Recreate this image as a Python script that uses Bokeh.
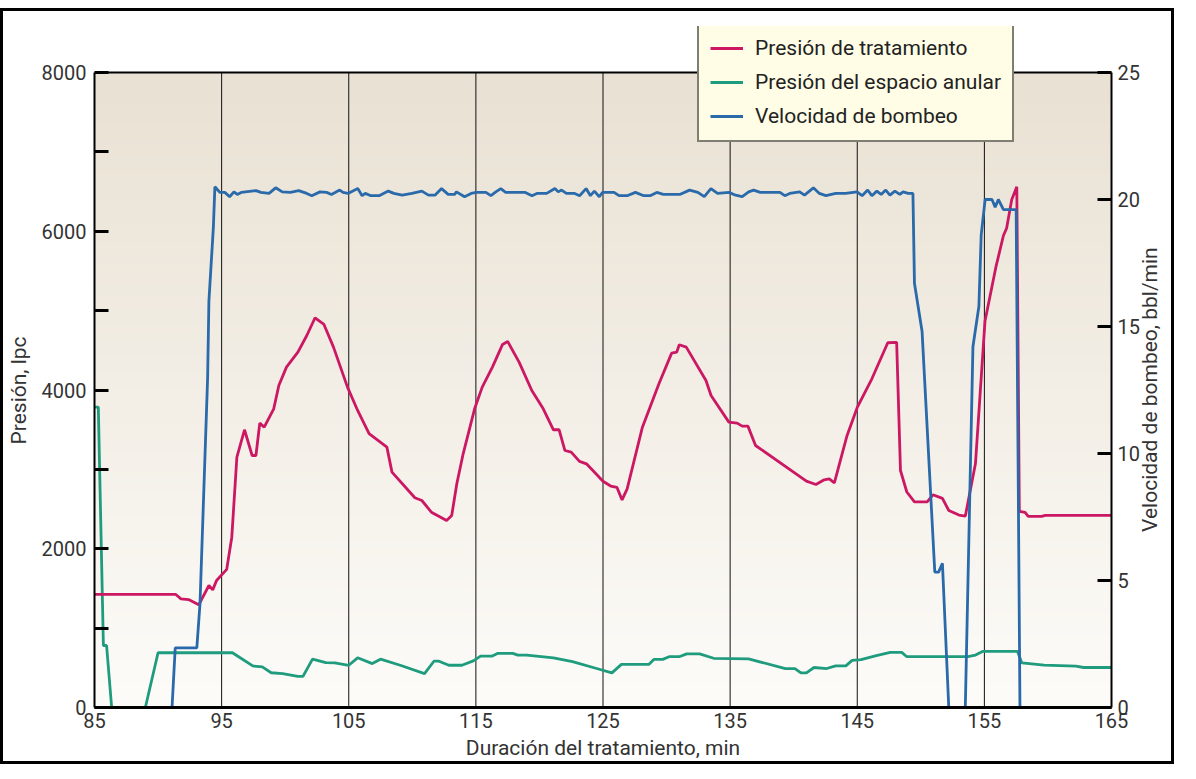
import math
import numpy as np
from bokeh.plotting import figure
from bokeh.models import Range1d, LinearAxis, FixedTicker, Legend, LegendItem, Span
from bokeh.embed import file_html
from bokeh.resources import INLINE

FONT = "Roboto"

# ---- data ----
# Presión de tratamiento (lpc)
t_trat = [85, 91.4, 91.8, 92.4, 93.2, 94.0, 94.3, 94.6, 95.4, 95.8, 96.2, 96.8, 97.4, 97.7,
          98.0, 98.35, 99.1, 99.5, 100.1, 101.0, 101.7, 102.35, 103.05, 103.8, 104.9, 105.7,
          106.6, 108.0, 108.4, 110.2, 110.75, 111.5, 112.7, 113.1, 113.5, 114.0, 114.9, 115.5,
          116.3, 117.1, 117.5, 118.4, 119.4, 120.3, 121.1, 121.55, 122.0, 122.5, 123.15, 123.7,
          125.0, 125.6, 126.1, 126.5, 126.9, 128.1, 129.4, 130.4, 130.8, 131.0, 131.55, 133.1,
          133.5, 134.9, 135.55, 135.95, 136.4, 137.0, 141.0, 141.75, 142.4, 142.8, 143.2, 144.2,
          145.0, 146.15, 147.4, 148.1, 148.4, 148.9, 149.5, 150.5, 150.95, 151.7, 152.2, 153.0,
          153.5, 154.3, 155.05, 155.9, 156.5, 156.75, 157.15, 157.55, 157.75, 158.2, 158.45,
          159.5, 159.8, 165]
p_trat = [1424, 1424, 1369, 1360, 1294, 1537, 1482, 1600, 1740, 2146, 3154, 3499, 3175, 3175,
          3583, 3532, 3763, 4057, 4288, 4477, 4687, 4910, 4826, 4540, 4036, 3742,
          3449, 3280, 2965, 2642, 2608, 2461, 2356, 2419, 2818, 3196, 3763, 4036,
          4288, 4574, 4612, 4351, 3994, 3763, 3499, 3499, 3238, 3217, 3100, 3070,
          2850, 2790, 2772, 2616, 2755, 3532, 4078, 4465, 4477, 4570, 4540, 4120,
          3931, 3595, 3583, 3545, 3545, 3301, 2852, 2810, 2869, 2881, 2831, 3427,
          3780, 4141, 4595, 4600, 2986, 2715, 2590, 2590, 2680, 2635, 2482, 2424,
          2410, 3074, 4870, 5544, 5947, 6038, 6397, 6560, 2470, 2457, 2407,
          2407, 2420, 2420]

# Presión del espacio anular (lpc)
t_anular = [85, 85.3, 85.7, 85.95, 86.35, 89.0, 90.0, 95.85, 97.45, 98.2, 98.9, 99.8, 101.0,
            101.4, 102.15, 103.2, 103.9, 105.0, 105.7, 106.85, 107.5, 109.05, 110.96, 111.7,
            112.1, 112.87, 113.9, 114.8, 115.37, 116.25, 116.7, 117.9, 118.3, 119.0, 121.1,
            122.6, 124.5, 125.7, 126.45, 128.6, 129.0, 129.7, 130.2, 131.0, 131.58, 132.6,
            133.7, 136.45, 139.35, 140.1, 140.57, 141.0, 141.6, 142.6, 143.3, 144.1, 144.6,
            145.3, 146.5, 147.6, 148.5, 148.9, 153.7, 154.3, 154.9, 157.6, 157.95, 159.7,
            162.2, 162.8, 165]
p_anular = [3784, 3784, 781, 781, 0, 0, 690, 690, 524, 511, 438, 426, 392,
            392, 609, 566, 562, 532, 626, 553, 609, 532, 426, 583,
            583, 532, 532, 587, 647, 647, 681, 681, 660, 660, 626,
            577, 491, 436, 543, 543, 606, 606, 640, 640, 675, 675,
            620, 612, 491, 491, 436, 436, 504, 491, 525, 525, 593,
            602, 653, 694, 694, 640, 640, 660, 708, 708, 562, 533,
            520, 504, 504]

# Velocidad de bombeo (bbl/min)
t_bombeo = [85, 91.1, 91.35, 93.05, 93.3, 93.9, 94.0, 94.35, 94.47,
            94.86, 95.25, 95.63, 95.97, 96.23, 96.54, 97.7, 98.09, 98.73, 99.25, 99.77,
            100.41, 101.06, 101.7, 102.09, 102.74, 103.26, 103.64, 104.29, 104.55, 104.94,
            105.71, 106.05, 106.3, 106.74, 107.39, 108.11, 108.55, 109.2, 109.97, 110.75,
            111.27, 111.78, 112.3, 112.82, 113.33, 113.47, 114.11, 114.63, 115.02, 115.79,
            116.18, 116.57, 116.96, 117.34, 118.89, 119.41, 119.8, 120.57, 121.22, 121.48,
            121.74, 122.12, 122.77, 123.16, 123.67, 124.01, 124.32, 124.71, 124.97, 125.87,
            126.26, 126.9, 127.55, 128.2, 128.71, 129.23, 129.75, 131.04, 131.81, 132.46,
            132.97, 133.49, 134.01, 134.91, 135.43, 135.95, 136.46, 136.85, 137.37, 138.92,
            139.3, 139.69, 140.47, 140.85, 141.55, 142.02, 142.53, 143.31, 144.08, 144.99,
            145.38, 145.82, 146.15, 146.54, 146.88, 147.24, 147.57, 147.96, 148.35, 148.61,
            149.0, 149.38, 149.5, 150.1, 151.1, 151.4, 151.7, 152.2, 153.5, 154.1, 154.57,
            154.75, 155.06, 155.6, 155.85, 156.1, 156.5, 157.5, 157.8, 165]
q_bombeo = [0, 0, 2.35, 2.35, 4.1, 13.0, 16.0, 18.9, 20.5,
            20.28, 20.28, 20.11, 20.30, 20.20, 20.28, 20.35, 20.28, 20.24, 20.46, 20.30,
            20.28, 20.35, 20.24, 20.15, 20.30, 20.28, 20.20, 20.37, 20.28, 20.24,
            20.43, 20.15, 20.24, 20.15, 20.15, 20.33, 20.24, 20.17, 20.24, 20.33,
            20.17, 20.17, 20.43, 20.20, 20.20, 20.30, 20.11, 20.24, 20.28, 20.28,
            20.15, 20.30, 20.43, 20.28, 20.28, 20.15, 20.24, 20.24, 20.43, 20.30,
            20.37, 20.24, 20.24, 20.15, 20.43, 20.15, 20.33, 20.11, 20.28, 20.28,
            20.15, 20.15, 20.28, 20.15, 20.15, 20.28, 20.20, 20.20, 20.37, 20.28,
            20.11, 20.43, 20.24, 20.28, 20.17, 20.11, 20.30, 20.37, 20.28, 20.28,
            20.15, 20.24, 20.30, 20.17, 20.46, 20.24, 20.15, 20.24, 20.24, 20.30,
            20.15, 20.37, 20.15, 20.33, 20.20, 20.37, 20.17, 20.33, 20.20, 20.30,
            20.24, 20.24, 16.7, 14.8, 5.33, 5.33, 5.68, 0, 0, 14.2, 15.8,
            18.6, 20.0, 20.0, 19.7, 20.0, 19.6, 19.6, 0, 0]

x_ticks = [85, 95, 105, 115, 125, 135, 145, 155, 165]
y_ticks = [0, 1000, 2000, 3000, 4000, 5000, 6000, 7000, 8000]
y_tick_labels = ["0", "", "2000", "", "4000", "", "6000", "", "8000"]
r_ticks = [0, 5, 10, 15, 20, 25]

series_names = ["Presión de tratamiento", "Presión del espacio anular", "Velocidad de bombeo"]
series_colors = ["#cc1763", "#1f9b7e", "#2a69aa"]
x_title = "Duración del tratamiento, min"
y_title = "Presión, lpc"
r_title = "Velocidad de bombeo, bbl/min"

X0, X1 = x_ticks[0], x_ticks[-1]
Y0, Y1 = y_ticks[0], y_ticks[-1]
R0, R1 = r_ticks[0], r_ticks[-1]

# layout (pixels): the Bokeh frame reaches above the drawn plot box so that
# the legend, which sticks out of the box, is not clipped.
W, H = 1174, 756
B_LEFT, B_RIGHT, B_TOP, B_BOTTOM = 83, 61, 15, 60
FRAME_H = H - B_TOP - B_BOTTOM
BOX_H = 635                      # height of the visible plot box
ext = FRAME_H / BOX_H
Y_TOP = Y1 * ext
R_TOP = R1 * ext
# the left axis title is centred on the frame; pad it so that the visible
# words are centred on the plot box instead
PAD = "\u00a0" * 9
# the right title (bottom-to-top) starts at its anchor; place that anchor so
# the words are centred on the plot box
R_TITLE_LEN = 284                # approx. rendered length in pixels
r_title_pos = round(R1 * (BOX_H / 2 - R_TITLE_LEN / 2) / BOX_H, 2)

p = figure(width=W, height=H, output_backend="svg", toolbar_location=None,
           x_range=Range1d(X0, X1), y_range=Range1d(Y0, Y_TOP),
           min_border_left=B_LEFT, min_border_right=B_RIGHT,
           min_border_top=B_TOP, min_border_bottom=B_BOTTOM,
           x_axis_label=x_title, y_axis_label=y_title + PAD)
p.styles = {"border": "3px solid black", "position": "relative", "top": "8px"}
p.extra_y_ranges = {"rate": Range1d(R0, R_TOP)}
p.background_fill_color = "white"
p.border_fill_color = "white"
p.outline_line_color = None
p.xgrid.visible = False
p.ygrid.visible = False

# vertical gradient background of the plot box
n = 256
top = np.array([233, 225, 211], dtype=float)
bot = np.array([253, 252, 249], dtype=float)
frac = np.linspace(0, 1, n)[:, None]
rgb = (bot * (1 - frac) + top * frac).astype(np.uint8)
img = np.zeros((n, 1), dtype=np.uint32)
view = img.view(dtype=np.uint8).reshape((n, 1, 4))
view[:, 0, 0] = rgb[:, 0]
view[:, 0, 1] = rgb[:, 1]
view[:, 0, 2] = rgb[:, 2]
view[:, 0, 3] = 255
p.image_rgba(image=[img], x=X0, y=Y0, dw=X1 - X0, dh=Y1 - Y0, level="image")

# vertical grid lines inside the plot box
gx = x_ticks[1:-1]
p.segment(x0=gx, y0=[Y0] * len(gx), x1=gx, y1=[Y1] * len(gx),
          line_color="#111111", line_width=1, level="underlay")

lab_color = "#333333"
TICK_SIZE = "20px"
TITLE_SIZE = "21px"

# bottom axis
xa = p.xaxis[0]
xa.ticker = FixedTicker(ticks=x_ticks)
xa.major_tick_in = 0
xa.major_tick_out = 0
xa.minor_tick_line_color = None
xa.axis_line_width = 3
xa.axis_line_color = "black"
xa.major_label_standoff = 5
xa.axis_label_standoff = 5

# left axis
ya = p.yaxis[0]
ya.bounds = (Y0, Y1)
ya.ticker = FixedTicker(ticks=y_ticks)
ya.major_label_overrides = {v: s for v, s in zip(y_ticks, y_tick_labels)}
ya.major_tick_in = 14
ya.major_tick_out = 0
ya.major_tick_line_width = 3
ya.minor_tick_line_color = None
ya.axis_line_width = 2
ya.major_label_standoff = 8
ya.axis_label_standoff = 8

# right axis (ticks and numbers)
ra = LinearAxis(y_range_name="rate", ticker=FixedTicker(ticks=r_ticks), bounds=(R0, R1))
ra.major_tick_in = 14
ra.major_tick_out = 0
ra.major_tick_line_width = 3
ra.minor_tick_line_color = None
ra.axis_line_width = 2
ra.major_label_standoff = 6
p.add_layout(ra, "right")

# right title, drawn bottom-to-top as the single label of an outer right axis
rt = LinearAxis(y_range_name="rate", ticker=FixedTicker(ticks=[r_title_pos]))
rt.major_label_overrides = {r_title_pos: r_title}
rt.major_label_orientation = math.pi / 2
rt.axis_line_color = None
rt.major_tick_line_color = None
rt.minor_tick_line_color = None
rt.major_tick_in = 0
rt.major_tick_out = 0
rt.major_label_standoff = 8
p.add_layout(rt, "right")

for ax in [xa, ya, ra]:
    ax.major_label_text_font = FONT
    ax.major_label_text_font_size = TICK_SIZE
    ax.major_label_text_color = lab_color
    ax.axis_label_text_font = FONT
    ax.axis_label_text_font_size = TITLE_SIZE
    ax.axis_label_text_font_style = "normal"
    ax.axis_label_text_color = lab_color
rt.major_label_text_font = FONT
rt.major_label_text_font_size = TITLE_SIZE
rt.major_label_text_color = lab_color

# top edge of the plot box
p.add_layout(Span(location=Y1, dimension="width", line_color="black", line_width=2))

r_an = p.line(t_anular, p_anular, color=series_colors[1], line_width=2.8)
r_tr = p.line(t_trat, p_trat, color=series_colors[0], line_width=2.8)
r_bo = p.line(t_bombeo, q_bombeo, color=series_colors[2], line_width=2.8, y_range_name="rate")

legend = Legend(items=[LegendItem(label=series_names[0], renderers=[r_tr]),
                       LegendItem(label=series_names[1], renderers=[r_an]),
                       LegendItem(label=series_names[2], renderers=[r_bo])],
                location=(603, 565))
legend.background_fill_color = "#fffde6"
legend.background_fill_alpha = 1
legend.border_line_color = "black"
legend.border_line_width = 2
legend.label_text_font = FONT
legend.label_text_font_size = "21px"
legend.label_text_color = "#222222"
legend.glyph_width = 33
legend.glyph_height = 26
legend.label_height = 26
legend.label_standoff = 12
legend.spacing = 8
legend.padding = 11
legend.margin = 0
p.add_layout(legend)

open("out.html", "w").write(file_html(p, INLINE))
